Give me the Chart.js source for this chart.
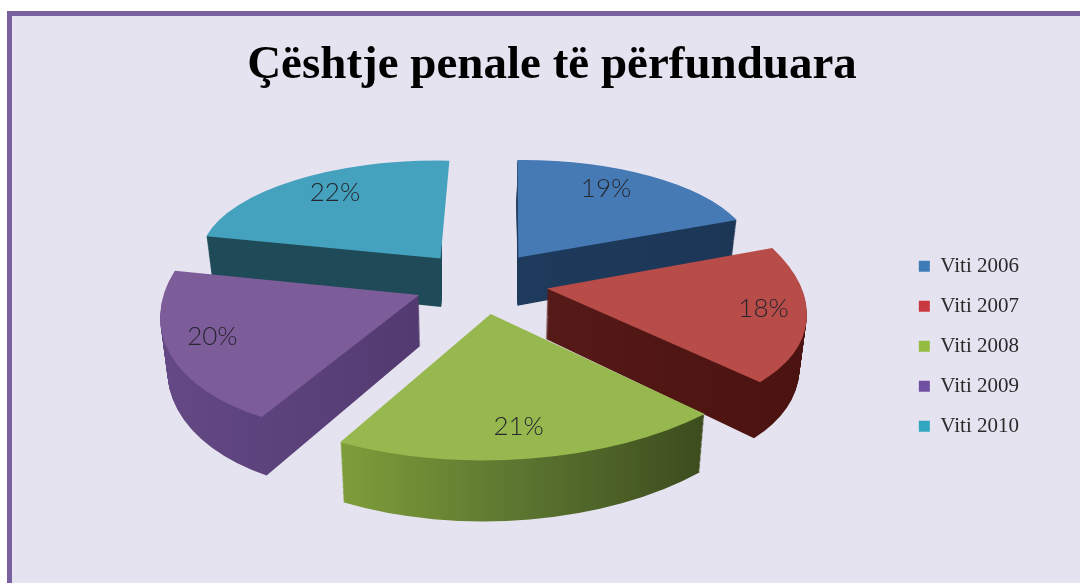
<!DOCTYPE html>
<html><head><meta charset="utf-8">
<script src="https://cdn.jsdelivr.net/npm/chart.js@4"></script>
<style>
html,body{margin:0;padding:0;background:#fff;overflow:hidden}
#frame{position:absolute;left:7px;top:11px;width:1068px;height:567px;border-left:5px solid #7b60a0;border-top:5px solid #7b60a0;background:#e6e3f0}
canvas{position:absolute;left:0;top:0}
</style></head><body>
<div id="frame"></div>
<canvas id="c" width="1080" height="583"></canvas>
<script>
const chartTitle = "Çështje penale të përfunduara";
const categories = ["Viti 2006","Viti 2007","Viti 2008","Viti 2009","Viti 2010"];
const values = [19,18,21,20,22];
const topColors = ["#467ab5","#b84c48","#96b84e","#7d5c9a","#45a2be"];
const legendColors = ["#3e7cb8","#c9383e","#94bc40","#7050a0","#30a6c0"];
const wallColors = [
  [[515,"#1e3a5c"],[735,"#1c3656"]],
  [[545,"#561a18"],[805,"#4a1210"]],
  [[335,"#7f9f3a"],[520,"#5c7530"],[705,"#3c4c1e"]],
  [[160,"#644985"],[425,"#523a70"]],
  [[210,"#1f4a57"],[448,"#1f4a57"]]
];
const drawOrder = [4,0,3,1,2];
const labelNudge = [[-11,-4],[14,1],[-6,0],[-10,1],[2,-3]];

// camera of the fake 3D pie
const cam = {cx:481, cy:282, f:255, g:118.6, k:0.1475, explode:0.262, depth:50, converge:0.022, labelR:0.78};
function project(X,Y,t){
  const w = 1 + cam.k*Y;
  const tt = t||0;
  const d = tt*cam.depth/w;
  return {x: cam.cx + (cam.f*X/w)*(1-cam.converge*tt), y: cam.cy - cam.g*Y/w + d};
}
function sliceGeometry(arc,t){
  const s = arc.startAngle, e = arc.endAngle, m = (s+e)/2, R = arc.outerRadius;
  const ox = cam.explode*Math.cos(m), oy = -cam.explode*Math.sin(m);
  const T = project(ox,oy,t);
  const A = project(ox+Math.cos(s),oy-Math.sin(s),t);
  const B = project(ox+Math.cos(e),oy-Math.sin(e),t);
  const ux=R*Math.cos(s),uy=R*Math.sin(s),vx=R*Math.cos(e),vy=R*Math.sin(e);
  const det=ux*vy-vx*uy;
  const ax=A.x-T.x, ay=A.y-T.y, bx=B.x-T.x, by=B.y-T.y;
  const a=(ax*vy-bx*uy)/det, c=(-ax*vx+bx*ux)/det;
  const b=(ay*vy-by*uy)/det, d=(-ay*vx+by*ux)/det;
  return {a,b,c,d,e:T.x-a*arc.x-c*arc.y,f:T.y-b*arc.x-d*arc.y,
          tipX:T.x,backFacing:Math.cos(m)<0 && Math.sin(m)<0 && B.x>T.x};
}
function drawSlice(ctx,arc,fill,M,clipRight){
  const saved = arc.options;
  arc.options = Object.create(saved,{backgroundColor:{value:fill},borderWidth:{value:0}});
  ctx.save();
  if(clipRight){ctx.beginPath();ctx.rect(0,0,M.tipX,chartHeight);ctx.clip();}
  ctx.transform(M.a,M.b,M.c,M.d,M.e,M.f);
  arc.draw(ctx);
  ctx.restore();
  arc.options = saved;
}
const chartHeight = 583;
function wallFill(ctx,M,stops){
  // a gradient that runs along screen x once the transform is applied
  const n=M.a*M.a+M.c*M.c;
  const x0=stops[0][0], x1=stops[stops.length-1][0];
  const s0=(x0-M.e)/n, s1=(x1-M.e)/n;
  const g=ctx.createLinearGradient(s0*M.a,s0*M.c,s1*M.a,s1*M.c);
  stops.forEach(p=>g.addColorStop((p[0]-x0)/(x1-x0),p[1]));
  return g;
}
const pie3d = {
  id:'pie3d',
  beforeDatasetDraw(chart,args){
    const ctx=chart.ctx, arcs=args.meta.data, layers=cam.depth;
    drawOrder.forEach(i=>{
      const arc=arcs[i];
      for(let l=layers;l>=1;l--){
        const M=sliceGeometry(arc,l/layers);
        drawSlice(ctx,arc,wallFill(ctx,M,wallColors[i]),M,M.backFacing);
      }
      drawSlice(ctx,arc,topColors[i],sliceGeometry(arc,0),false);
    });
    return false;
  },
  afterDatasetsDraw(chart){
    const ctx=chart.ctx, arcs=chart.getDatasetMeta(0).data;
    const total=values.reduce((a,b)=>a+b,0);
    ctx.save();
    ctx.font='300 26px Lato';ctx.fillStyle='#26262e';ctx.textAlign='center';ctx.textBaseline='middle';
    arcs.forEach((arc,i)=>{
      const m=(arc.startAngle+arc.endAngle)/2, r=cam.explode+cam.labelR;
      const p=project(r*Math.cos(m),-r*Math.sin(m),0);
      ctx.fillText(Math.round(values[i]/total*100)+'%',p.x+labelNudge[i][0],p.y+labelNudge[i][1]);
    });
    ctx.restore();
  }
};
new Chart(document.getElementById('c'),{
  type:'pie',
  data:{labels:categories,datasets:[{data:values,backgroundColor:legendColors,borderWidth:0}]},
  plugins:[pie3d],
  options:{
    responsive:false,animation:false,rotation:1,
    layout:{padding:{left:75,right:51,top:38,bottom:0}},
    plugins:{
      tooltip:{enabled:false},
      title:{display:true,text:chartTitle,color:'#000',font:{family:'"Liberation Serif"',size:47,weight:'bold'},padding:{top:0,bottom:15}},
      legend:{position:'right',fullSize:false,labels:{boxWidth:11,boxHeight:11,padding:19,color:'#2a2a2a',font:{family:'"Liberation Serif"',size:21}}}
    }
  }
});
</script></body></html>
